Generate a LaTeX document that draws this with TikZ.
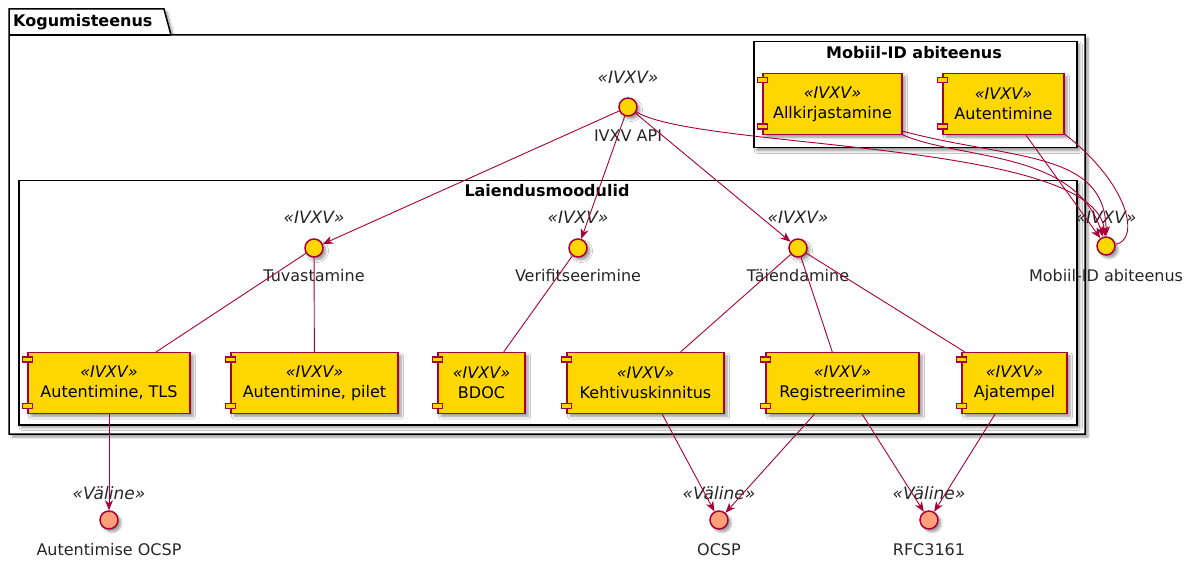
\documentclass[tikz,border=0pt]{standalone}
\usepackage{fontspec}
\setmainfont{DejaVu Sans}
\usetikzlibrary{shadows.blur,arrows.meta,calc}
\definecolor{umlred}{HTML}{A80036}
\definecolor{compfill}{HTML}{FED700}
\definecolor{extfill}{HTML}{FFA07A}
\tikzset{
 shad/.style={blur shadow={shadow xshift=3pt,shadow yshift=-3pt,shadow blur steps=6,shadow blur radius=2.5pt,shadow opacity=40}},
 comp/.style={draw=umlred,line width=1.3pt,fill=compfill,shad,minimum height=61pt,align=center,font=\fontsize{16}{20}\selectfont,inner sep=0pt},
 port/.style={draw=umlred,line width=1.3pt,fill=compfill},
 iface/.style={circle,draw=umlred,line width=1.5pt,fill=compfill,minimum size=18pt,inner sep=0pt,shad},
 ext/.style={iface,fill=extfill},
 st/.style={font=\fontsize{17}{20}\selectfont\itshape,inner sep=0pt,text=black!85},
 lbl/.style={font=\fontsize{16}{19}\selectfont,inner sep=0pt,text=black!85},
 pkg/.style={draw=black,line width=1.5pt,fill=white,shad},
 boxn/.style={pkg,inner sep=0pt,anchor=north west},
 ttl/.style={font=\fontsize{16}{19}\selectfont\bfseries,inner sep=0pt},
 con/.style={draw=umlred,line width=0.9pt},
 arr/.style={con,-{Stealth[length=10pt,width=8pt,inset=3pt]}},
}
\newcommand\mkcomp[5]{%
 \node[comp,minimum width=#4pt] (#1) at (#2,#3) {{\itshape «IVXV»}\\#5};
 \draw[port] ($(#1.north west)+(-5,5)$) rectangle ++(10,5);
 \draw[port] ($(#1.south west)+(-5,-11)$) rectangle ++(10,5);
}
\begin{document}
\begin{tikzpicture}[x=1pt,y=-1pt]
\useasboundingbox (0,0) rectangle (1191,561);
% outer package
\path[pkg] (9,9) -- (164,9) -- (171,35) -- (1085,35) -- (1085,434) -- (9,434) -- cycle;
\draw[line width=1.5pt,draw=black] (9,35) -- (171,35);
\node[ttl,anchor=west] (kogt) at (13,22) {Kogumisteenus};
% Mobiil-ID box
\node[boxn,minimum width=323pt,minimum height=106pt] (mob) at (753,41) {};
\node[ttl] (mobt) at (914,53) {Mobiil-ID abiteenus};
% Laiendusmoodulid box
\node[boxn,minimum width=1058pt,minimum height=244pt] (lai) at (18,180) {};
\node[ttl] (lait) at (547,191) {Laiendusmoodulid};
% components
\mkcomp{allk}{832.5}{104}{139}{Allkirjastamine}
\mkcomp{aut}{1003.5}{104}{121}{Autentimine}
\mkcomp{tls}{109}{383}{162}{Autentimine, TLS}
\mkcomp{pilet}{314.5}{383}{167}{Autentimine, pilet}
\mkcomp{bdoc}{481.5}{383}{87}{BDOC}
\mkcomp{keht}{645.5}{383}{157}{Kehtivuskinnitus}
\mkcomp{reg}{842.5}{383}{153}{Registreerimine}
\mkcomp{aja}{1014.5}{383}{105}{Ajatempel}
% interfaces
\node[iface] (api) at (628,107) {};
\node[st] (apis) at (628,77) {«IVXV»};
\node[lbl] (apil) at (628,136) {IVXV API};
\node[iface] (tuv) at (314,248) {};
\node[st] (tuvs) at (314,217) {«IVXV»};
\node[lbl] (tuvl) at (314,276) {Tuvastamine};
\node[iface] (ver) at (578,248) {};
\node[st] (vers) at (578,217) {«IVXV»};
\node[lbl] (verl) at (578,276) {Verifitseerimine};
\node[iface] (tai) at (798,248) {};
\node[st] (tais) at (798,217) {«IVXV»};
\node[lbl] (tail) at (798,276) {Täiendamine};
\node[iface] (mid) at (1106,246) {};
\node[st] (mids) at (1106,217) {«IVXV»};
\node[lbl] (midl) at (1106,276) {Mobiil-ID abiteenus};
\node[ext] (aocsp) at (109,520) {};
\node[st] (aocsps) at (109,493) {«Väline»};
\node[lbl] (aocspl) at (109,550) {Autentimise OCSP};
\node[ext] (ocsp) at (719,520) {};
\node[st] (ocsps) at (719,493) {«Väline»};
\node[lbl] (ocspl) at (719,550) {OCSP};
\node[ext] (rfc) at (929,520) {};
\node[st] (rfcs) at (929,493) {«Väline»};
\node[lbl] (rfcl) at (929,550) {RFC3161};
% connectors
\draw[arr] (api) -- (tuv);
\draw[arr] (api) -- (ver);
\draw[arr] (api) -- (tai);
\draw[arr] (api) .. controls (700,150) and (1095,140) .. (mid);
\draw[arr] (allk) .. controls (960,160) and (1075,150) .. (mid);
\draw[arr] ([yshift=4pt]allk.south east) .. controls (1010,160) and (1106,150) .. (mid);
\draw[arr] (aut) -- (mid);
\draw[con] ([yshift=1pt]aut.south east) .. controls (1130,185) and (1140,240) .. (mid);
\draw[con] (tuv) -- (tls);
\draw[con] (tuv) -- (pilet);
\draw[con] (ver) -- (bdoc);
\draw[con] (tai) -- (keht);
\draw[con] (tai) -- (reg);
\draw[con] (tai) -- (aja);
\draw[arr] (tls) -- (aocsp);
\draw[arr] (keht) -- (ocsp);
\draw[arr] (reg) -- (ocsp);
\draw[arr] (reg) -- (rfc);
\draw[arr] (aja) -- (rfc);
\end{tikzpicture}
\end{document}
